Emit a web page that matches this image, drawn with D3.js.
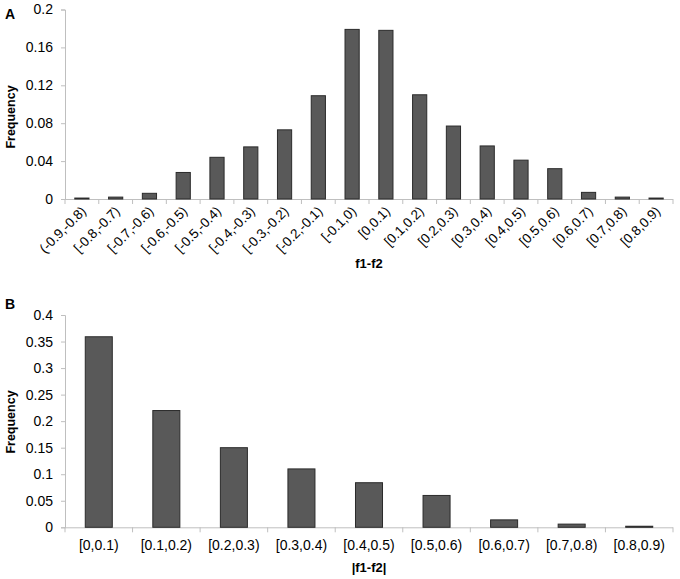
<!DOCTYPE html>
<html><head><meta charset="utf-8">
<script src="https://cdn.jsdelivr.net/npm/d3@7"></script>
<style>body{margin:0;background:#fff}svg{display:block}text{font-family:"Liberation Sans",Arial,sans-serif;fill:#000}</style>
</head><body><svg id="c" width="680" height="579"></svg>
<script>
const catsA = ["(-0.9,-0.8)","[-0.8,-0.7)","[-0.7,-0.6)","[-0.6,-0.5)","[-0.5,-0.4)","[-0.4,-0.3)","[-0.3,-0.2)","[-0.2,-0.1)","[-0.1,0)","[0,0.1)","[0.1,0.2)","[0.2,0.3)","[0.3,0.4)","[0.4,0.5)","[0.5,0.6)","[0.6,0.7)","[0.7,0.8)","[0.8,0.9)"];
const valsA = [0.001,0.002,0.006,0.028,0.044,0.055,0.073,0.109,0.179,0.178,0.110,0.077,0.056,0.041,0.032,0.007,0.002,0.001];
const ticksA = [0,0.04,0.08,0.12,0.16,0.2];
const catsB = ["[0,0.1)","[0.1,0.2)","[0.2,0.3)","[0.3,0.4)","[0.4,0.5)","[0.5,0.6)","[0.6,0.7)","[0.7,0.8)","[0.8,0.9)"];
const valsB = [0.359,0.220,0.150,0.110,0.084,0.060,0.014,0.006,0.002];
const ticksB = [0,0.05,0.1,0.15,0.2,0.25,0.3,0.35,0.4];

const svg = d3.select("#c");
const axisCol = "#bfbfbf";

function panel(opt){
  const g = svg.append("g");
  const x = d3.scaleBand().domain(opt.cats).range([65,673]).paddingInner(opt.pad).paddingOuter(opt.pad/2);
  const xb = d3.scaleBand().domain(opt.cats).range([65,673]);
  const y = d3.scaleLinear().domain([0,opt.max]).range([opt.y0,opt.y1]);
  const ya = g.append("g").attr("transform","translate(65,0)")
    .call(d3.axisLeft(y).tickValues(opt.ticks).tickSize(4).tickPadding(8).tickFormat(d=>String(+d.toFixed(2))));
  ya.select(".domain").attr("stroke",axisCol);
  ya.selectAll(".tick line").attr("stroke",axisCol);
  ya.selectAll("text").attr("font-size",14).attr("fill","#000").style("font-family","Liberation Sans, Arial, sans-serif");
  g.append("line").attr("x1",65).attr("x2",673).attr("y1",opt.y0+0.5).attr("y2",opt.y0+0.5).attr("stroke",axisCol);
  const bounds = opt.cats.map(c=>xb(c)).concat([673]);
  g.selectAll(".bt").data(bounds).join("line").attr("x1",d=>d).attr("x2",d=>d)
    .attr("y1",opt.y0).attr("y2",opt.y0+5).attr("stroke",axisCol);
  g.selectAll("rect").data(opt.vals).join("rect")
    .attr("x",(d,i)=>x(opt.cats[i]))
    .attr("width",x.bandwidth())
    .attr("y",d=>y(d))
    .attr("height",d=>opt.y0-y(d))
    .attr("fill","#595959").attr("stroke","#2b2b2b").attr("stroke-width",1);
  if(opt.rot){
    g.selectAll(".xl").data(opt.cats).join("text")
      .attr("transform",d=>`translate(${xb(d)+xb.bandwidth()/2+5},${opt.y0+13}) rotate(-45)`)
      .attr("text-anchor","end").attr("font-size",13.5).text(d=>d);
  } else {
    g.selectAll(".xl").data(opt.cats).join("text")
      .attr("x",d=>xb(d)+xb.bandwidth()/2).attr("y",opt.y0+23)
      .attr("text-anchor","middle").attr("font-size",14).text(d=>d);
  }
  g.append("text").attr("x",369).attr("y",opt.xty).attr("text-anchor","middle")
    .attr("font-size",13).attr("font-weight","bold").text(opt.xt);
  g.append("text").attr("transform",`translate(15,${opt.fy}) rotate(-90)`).attr("text-anchor","middle")
    .attr("font-size",12.5).attr("font-weight","bold").text("Frequency");
  g.append("text").attr("x",5).attr("y",opt.ly).attr("font-size",14).attr("font-weight","bold").text(opt.letter);
}
panel({cats:catsA,vals:valsA,ticks:ticksA,max:0.2,y0:199,y1:9.5,pad:0.58,rot:true,xt:"f1-f2",xty:268,fy:117,letter:"A",ly:19});
panel({cats:catsB,vals:valsB,ticks:ticksB,max:0.4,y0:527.3,y1:315,pad:0.6,rot:false,xt:"|f1-f2|",xty:572,fy:422,letter:"B",ly:309});
</script></body></html>
